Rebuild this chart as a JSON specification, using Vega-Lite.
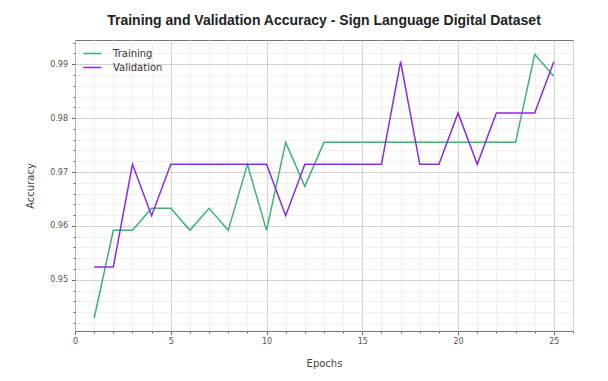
{
  "$schema": "https://vega.github.io/schema/vega-lite/v6.json",
  "autosize": "none",
  "width": 498,
  "height": 291,
  "padding": {"left": 75, "top": 40, "right": 35, "bottom": 50},
  "background": "white",
  "config": {
    "view": {"stroke": "#777", "strokeWidth": 1},
    "font": "DejaVu Sans"
  },
  "title": {
    "text": "Training and Validation Accuracy - Sign Language Digital Dataset",
    "font": "Liberation Sans",
    "fontSize": 14,
    "fontWeight": "bold",
    "color": "#222",
    "anchor": "middle",
    "offset": 12
  },
  "data": {
    "values": [
      {"epoch": 1, "series": "Training", "accuracy": 0.94286},
      {"epoch": 2, "series": "Training", "accuracy": 0.95918},
      {"epoch": 3, "series": "Training", "accuracy": 0.95918},
      {"epoch": 4, "series": "Training", "accuracy": 0.96327},
      {"epoch": 5, "series": "Training", "accuracy": 0.96327},
      {"epoch": 6, "series": "Training", "accuracy": 0.95918},
      {"epoch": 7, "series": "Training", "accuracy": 0.96327},
      {"epoch": 8, "series": "Training", "accuracy": 0.95918},
      {"epoch": 9, "series": "Training", "accuracy": 0.97143},
      {"epoch": 10, "series": "Training", "accuracy": 0.95918},
      {"epoch": 11, "series": "Training", "accuracy": 0.97551},
      {"epoch": 12, "series": "Training", "accuracy": 0.96735},
      {"epoch": 13, "series": "Training", "accuracy": 0.97551},
      {"epoch": 14, "series": "Training", "accuracy": 0.97551},
      {"epoch": 15, "series": "Training", "accuracy": 0.97551},
      {"epoch": 16, "series": "Training", "accuracy": 0.97551},
      {"epoch": 17, "series": "Training", "accuracy": 0.97551},
      {"epoch": 18, "series": "Training", "accuracy": 0.97551},
      {"epoch": 19, "series": "Training", "accuracy": 0.97551},
      {"epoch": 20, "series": "Training", "accuracy": 0.97551},
      {"epoch": 21, "series": "Training", "accuracy": 0.97551},
      {"epoch": 22, "series": "Training", "accuracy": 0.97551},
      {"epoch": 23, "series": "Training", "accuracy": 0.97551},
      {"epoch": 24, "series": "Training", "accuracy": 0.99184},
      {"epoch": 25, "series": "Training", "accuracy": 0.98776},
      {"epoch": 1, "series": "Validation", "accuracy": 0.95238},
      {"epoch": 2, "series": "Validation", "accuracy": 0.95238},
      {"epoch": 3, "series": "Validation", "accuracy": 0.97143},
      {"epoch": 4, "series": "Validation", "accuracy": 0.9619},
      {"epoch": 5, "series": "Validation", "accuracy": 0.97143},
      {"epoch": 6, "series": "Validation", "accuracy": 0.97143},
      {"epoch": 7, "series": "Validation", "accuracy": 0.97143},
      {"epoch": 8, "series": "Validation", "accuracy": 0.97143},
      {"epoch": 9, "series": "Validation", "accuracy": 0.97143},
      {"epoch": 10, "series": "Validation", "accuracy": 0.97143},
      {"epoch": 11, "series": "Validation", "accuracy": 0.9619},
      {"epoch": 12, "series": "Validation", "accuracy": 0.97143},
      {"epoch": 13, "series": "Validation", "accuracy": 0.97143},
      {"epoch": 14, "series": "Validation", "accuracy": 0.97143},
      {"epoch": 15, "series": "Validation", "accuracy": 0.97143},
      {"epoch": 16, "series": "Validation", "accuracy": 0.97143},
      {"epoch": 17, "series": "Validation", "accuracy": 0.99048},
      {"epoch": 18, "series": "Validation", "accuracy": 0.97143},
      {"epoch": 19, "series": "Validation", "accuracy": 0.97143},
      {"epoch": 20, "series": "Validation", "accuracy": 0.98095},
      {"epoch": 21, "series": "Validation", "accuracy": 0.97143},
      {"epoch": 22, "series": "Validation", "accuracy": 0.98095},
      {"epoch": 23, "series": "Validation", "accuracy": 0.98095},
      {"epoch": 24, "series": "Validation", "accuracy": 0.98095},
      {"epoch": 25, "series": "Validation", "accuracy": 0.99048}
    ]
  },
  "mark": {"type": "line", "strokeWidth": 1.5},
  "encoding": {
    "x": {
      "field": "epoch",
      "type": "quantitative",
      "scale": {"domain": [0, 26], "nice": false, "zero": false},
      "axis": {
        "title": "Epochs",
        "values": [0,1,2,3,4,5,6,7,8,9,10,11,12,13,14,15,16,17,18,19,20,21,22,23,24,25,26],
        "labelExpr": "datum.value % 5 === 0 ? datum.label : ''",
        "labelFontSize": 8,
        "labelColor": "#555",
        "labelPadding": 3,
        "labelFlush": false,
        "tickColor": "#666",
        "tickSize": {"condition": {"test": "datum.value % 5 === 0", "value": 3.5}, "value": 2},
        "gridColor": {"condition": {"test": "datum.value % 5 === 0", "value": "#c8c8c8"}, "value": "#ececec"},
        "gridWidth": 0.8,
        "domain": false,
        "titleFontSize": 10,
        "titleFontWeight": "normal",
        "titleColor": "#444",
        "titlePadding": 13
      }
    },
    "y": {
      "field": "accuracy",
      "type": "quantitative",
      "scale": {"domain": [0.9405, 0.9945], "nice": false, "zero": false},
      "axis": {
        "title": "Accuracy",
        "values": [0.942,0.944,0.946,0.948,0.95,0.952,0.954,0.956,0.958,0.96,0.962,0.964,0.966,0.968,0.97,0.972,0.974,0.976,0.978,0.98,0.982,0.984,0.986,0.988,0.99,0.992,0.994],
        "labelExpr": "abs(datum.value*100 - round(datum.value*100)) < 0.001 ? format(datum.value, '.2f') : ''",
        "labelFontSize": 8,
        "labelColor": "#555",
        "labelPadding": 4,
        "labelFlush": false,
        "tickColor": "#666",
        "tickSize": {"condition": {"test": "abs(datum.value*100 - round(datum.value*100)) < 0.001", "value": 3.5}, "value": 2},
        "gridColor": {"condition": {"test": "abs(datum.value*100 - round(datum.value*100)) < 0.001", "value": "#c8c8c8"}, "value": "#ececec"},
        "gridWidth": 0.8,
        "domain": false,
        "titleFontSize": 10,
        "titleFontWeight": "normal",
        "titleColor": "#444",
        "titlePadding": 14
      }
    },
    "color": {
      "field": "series",
      "type": "nominal",
      "scale": {"domain": ["Training", "Validation"], "range": ["#3cb371", "#8a2be2"]},
      "legend": {
        "title": null,
        "orient": "top-left",
        "offset": 5,
        "padding": 0,
        "symbolType": "M-0.7,0H1.73",
        "symbolSize": 225,
        "symbolStrokeWidth": 1.5,
        "labelFontSize": 10,
        "labelColor": "#333",
        "labelOffset": 16,
        "rowPadding": 0
      }
    }
  }
}
